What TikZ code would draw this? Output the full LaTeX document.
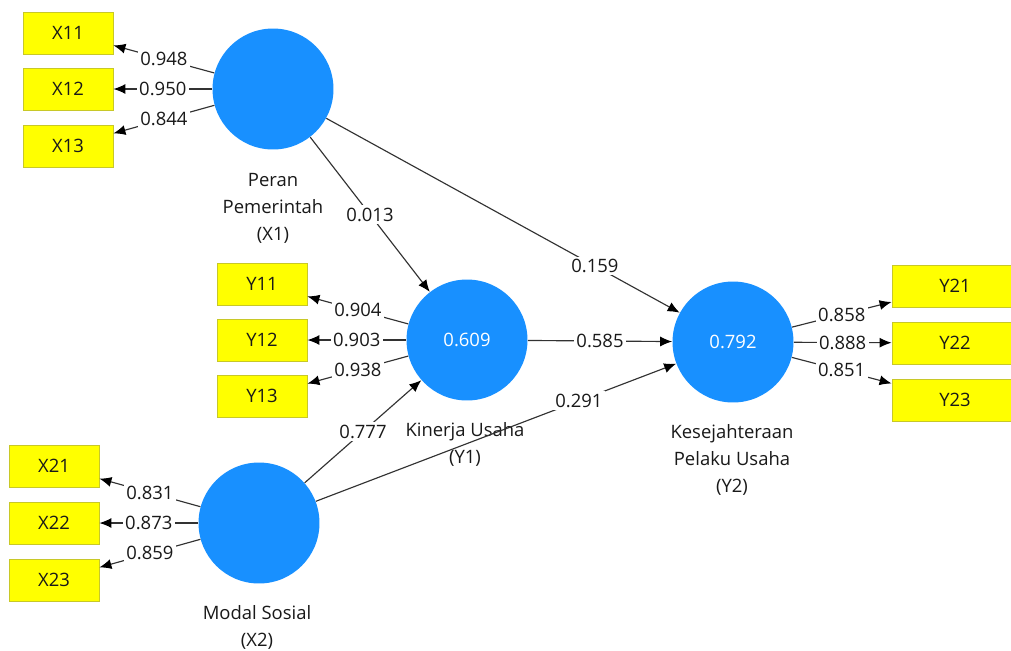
\documentclass[tikz,border=0pt]{standalone}
\usepackage{fontspec}
\setmainfont{Open Sans}
\usepackage{xcolor}
\usepackage{tikz}
\usetikzlibrary{arrows.meta}

\definecolor{lvblue}{RGB}{24,144,255}
\definecolor{mvyellow}{RGB}{255,255,0}
\definecolor{mvedge}{RGB}{200,200,40}
\definecolor{pathgray}{RGB}{50,50,50}

\begin{document}
\begin{tikzpicture}[x=0.02cm, y=0.02cm,
    every node/.style={font=\fontsize{10.5}{15.3}\selectfont, text=black!90},
    lv/.style={circle, fill=lvblue, minimum size=2.42cm, inner sep=0pt, text=white},
    mv/.style={rectangle, fill=mvyellow, draw=mvedge, line width=0.5pt, minimum width=1.8cm, minimum height=0.84cm, inner sep=0pt},
    mvwide/.style={mv, minimum width=2.52cm},
    lvname/.style={align=center},
    coef/.style={fill=white, inner sep=1.5pt},
    arc/.style={->, draw=pathgray, line width=0.65pt},
    >={Latex[length=2.4mm,width=2mm,color=black]}]
    \useasboundingbox (0,0) rectangle (1011,-650);
    \clip (0,0) rectangle (1011,-650);
    \fill[white] (0,0) rectangle (1011,-650);

    \node[lv] (x1) at (273,-89) {};
    \node[lv] (y1) at (467,-340) {0.609};
    \node[lv] (x2) at (259,-523) {};
    \node[lv] (y2) at (733,-342) {0.792};

    \node[lvname] (x1name) at (273,-208) {Peran\\Pemerintah\\(X1)};
    \node[lvname] (y1name) at (465,-444) {Kinerja Usaha\\(Y1)};
    \node[lvname] (x2name) at (257,-627) {Modal Sosial\\(X2)};
    \node[lvname] (y2name) at (732,-460) {Kesejahteraan\\Pelaku Usaha\\(Y2)};

    \node[mv] (x11) at (68,-33) {X11};
    \node[mv] (x12) at (68,-89) {X12};
    \node[mv] (x13) at (68,-146) {X13};
    \node[mv] (y11) at (262,-284) {Y11};
    \node[mv] (y12) at (262,-340) {Y12};
    \node[mv] (y13) at (262,-396) {Y13};
    \node[mv] (x21) at (54,-466) {X21};
    \node[mv] (x22) at (54,-523) {X22};
    \node[mv] (x23) at (54,-580) {X23};
    \node[mvwide] (y21) at (955,-286) {Y21};
    \node[mvwide] (y22) at (955,-343) {Y22};
    \node[mvwide] (y23) at (955,-400) {Y23};

    \draw[arc] (x1) -- node[coef] {0.948} (x11);
    \draw[arc] (x1) -- node[coef] {0.950} (x12);
    \draw[arc] (x1) -- node[coef] {0.844} (x13);
    \draw[arc] (y1) -- node[coef] {0.904} (y11);
    \draw[arc] (y1) -- node[coef] {0.903} (y12);
    \draw[arc] (y1) -- node[coef] {0.938} (y13);
    \draw[arc] (x2) -- node[coef] {0.831} (x21);
    \draw[arc] (x2) -- node[coef] {0.873} (x22);
    \draw[arc] (x2) -- node[coef] {0.859} (x23);
    \draw[arc] (y2) -- node[coef] {0.858} (y21);
    \draw[arc] (y2) -- node[coef] {0.888} (y22);
    \draw[arc] (y2) -- node[coef] {0.851} (y23);

    \draw[arc] (x1) -- node[coef] {0.013} (y1);
    \draw[arc] (x1) -- node[coef, pos=0.76] {0.159} (y2);
    \draw[arc] (y1) -- node[coef] {0.585} (y2);
    \draw[arc] (x2) -- node[coef] {0.777} (y1);
    \draw[arc] (x2) -- node[coef, pos=0.73] {0.291} (y2);
\end{tikzpicture}
\end{document}
